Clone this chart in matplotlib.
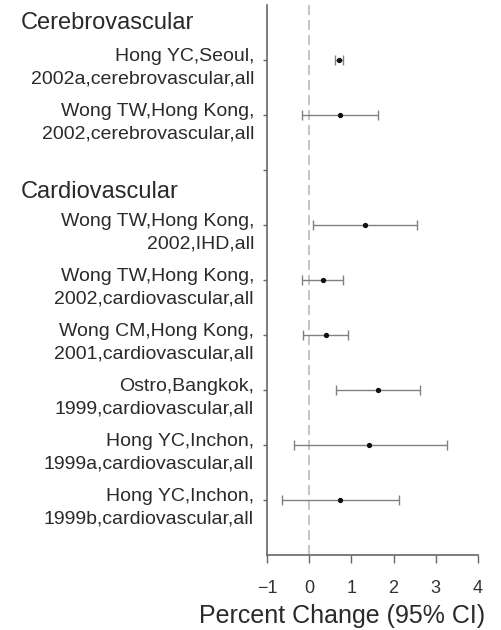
import matplotlib
matplotlib.use("Agg")
import matplotlib.pyplot as plt
import matplotlib.transforms as mtransforms

plt.rcParams['font.family'] = ['Liberation Sans', 'DejaVu Sans']

# study estimates, top to bottom
labels = [
    "Hong YC,Seoul,\n2002a,cerebrovascular,all",
    "Wong TW,Hong Kong,\n2002,cerebrovascular,all",
    "Wong TW,Hong Kong,\n2002,IHD,all",
    "Wong TW,Hong Kong,\n2002,cardiovascular,all",
    "Wong CM,Hong Kong,\n2001,cardiovascular,all",
    "Ostro,Bangkok,\n1999,cardiovascular,all",
    "Hong YC,Inchon,\n1999a,cardiovascular,all",
    "Hong YC,Inchon,\n1999b,cardiovascular,all",
]
est = [0.70, 0.74, 1.33, 0.33, 0.40, 1.62, 1.41, 0.74]
lo = [0.60, -0.17, 0.10, -0.17, -0.14, 0.64, -0.36, -0.64]
hi = [0.80, 1.64, 2.55, 0.81, 0.93, 2.62, 3.26, 2.12]
rows = [9, 8, 6, 5, 4, 3, 2, 1]

groups = ["Cerebrovascular", "Cardiovascular"]
group_rows = [9.67, 6.6]

xticks = [-1, 0, 1, 2, 3, 4]

fig = plt.figure(figsize=(5.01, 6.30), dpi=100)
ax = fig.add_axes([267 / 501, 75 / 630, 211 / 501, 550 / 630])

ax.axvline(0, color='#bbbbbb', lw=1.2, ls=(0, (6, 3)), zorder=1)

for y, m, a, b in zip(rows, est, lo, hi):
    ax.errorbar(m, y, xerr=[[m - a], [b - m]], fmt='o', ms=2.8,
                color='#111111', ecolor='#808080', elinewidth=1.0,
                capsize=3.5, capthick=1.0, zorder=3)

ax.set_xlim(-1, 4)
ax.set_ylim(0, 10)
ax.set_xticks(xticks)
ax.set_xticklabels(["\u22121", "0", "1", "2", "3", "4"], fontsize=13, color='#333333')
ax.set_yticks(range(1, 10))
ax.set_yticklabels([])
ax.tick_params(axis='x', length=6, width=1, color='#666666', pad=12)
ax.tick_params(axis='y', length=3, width=1, color='#666666')

for s in ['top', 'right']:
    ax.spines[s].set_visible(False)
for s in ['left', 'bottom']:
    ax.spines[s].set_color('#666666')
    ax.spines[s].set_linewidth(1.2)

# two-line study labels, first line sitting on the tick
trans = mtransforms.blended_transform_factory(ax.transAxes, ax.transData)
for y, lab in zip(rows, labels):
    ax.text(-0.062, y + 0.22, lab, transform=trans, ha='right', va='top',
            fontsize=14, color='#2a2a2a', linespacing=1.4)

for y, g in zip(group_rows, groups):
    fig.text(21 / 501, 75 / 630 + y / 10 * 550 / 630, g, ha='left', va='center',
             fontsize=17, color='#2a2a2a')

fig.text(342 / 501, 1 - 616 / 630, "Percent Change (95% CI)", ha='center', va='center',
         fontsize=18, color='#2a2a2a')

fig.savefig("out.png", dpi=100)
